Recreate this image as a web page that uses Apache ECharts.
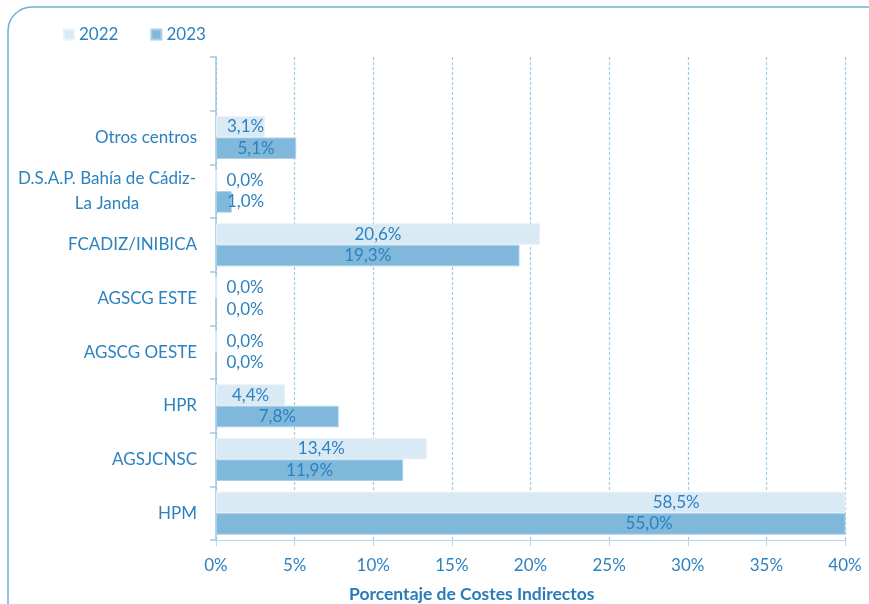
<!DOCTYPE html>
<html>
<head>
<meta charset="utf-8">
<script src="https://cdn.jsdelivr.net/npm/echarts@6/dist/echarts.min.js"></script>
<style>
  html, body { margin: 0; padding: 0; background: #fff; }
  #chart { width: 869px; height: 604px; }
</style>
</head>
<body>
<div id="chart"></div>
<script>
// categories bottom -> top (top slot is empty, as in the original)
var centros = [
  "HPM",
  "AGSJCNSC",
  "HPR",
  "AGSCG OESTE",
  "AGSCG ESTE",
  "FCADIZ/INIBICA",
  "D.S.A.P. Bahía de Cádiz-\nLa Janda",
  "Otros centros",
  ""
];
var valores2022 = [58.5, 13.4, 4.4, 0.0, 0.0, 20.6, 0.0, 3.1, null];
var valores2023 = [55.0, 11.9, 7.8, 0.0, 0.0, 19.3, 1.0, 5.1, null];
var ticksX = [0, 5, 10, 15, 20, 25, 30, 35, 40];

var X_MAX = ticksX[ticksX.length - 1];
var BLUE_TXT = "#2b82bf";
var FONT = "Lato";
var FS = 17;

function pct(v) {
  return v.toFixed(1).replace(".", ",") + "%";
}

// label placement: centred on the (unclipped) bar, kept clear of the axis for tiny bars
function barData(values) {
  return values.map(function (v) {
    if (v == null) return null;
    var label;
    if (v > X_MAX) {
      label = { position: [(v / 2 / X_MAX * 100).toFixed(1) + "%", "50%"], align: "center", verticalAlign: "middle" };
    } else if (v < 3.8) {
      label = { position: "insideLeft", distance: 11 };
    } else {
      label = { position: "inside" };
    }
    return { value: v, label: label };
  });
}

function makeSeries(name, values, color, border) {
  return {
    name: name,
    type: "bar",
    data: barData(values),
    barGap: "0%",
    barCategoryGap: "20%",
    itemStyle: { color: color, borderColor: border, borderWidth: 1 },
    label: {
      show: true,
      color: BLUE_TXT,
      fontFamily: FONT,
      fontSize: FS,
      formatter: function (p) { return pct(p.value); }
    },
    emphasis: { disabled: true },
    animation: false
  };
}

var chart = echarts.init(document.getElementById("chart"), null, { renderer: "canvas" });

chart.setOption({
  animation: false,
  textStyle: { fontFamily: FONT },
  graphic: [{
    type: "rect",
    shape: { x: 8, y: 7, width: 920, height: 660, r: 24 },
    style: { fill: "none", stroke: "#6fb0d9", lineWidth: 1.5 },
    silent: true,
    z: 0
  }],
  title: {
    text: "Porcentaje de Costes Indirectos",
    left: 344,
    top: 580,
    textStyle: { color: "#2a7cb8", fontFamily: FONT, fontSize: 17.5, fontWeight: "bold" }
  },
  legend: {
    data: ["2022", "2023"],
    left: 58,
    top: 21,
    icon: "rect",
    itemWidth: 10,
    itemHeight: 10,
    itemGap: 32,
    textStyle: { color: BLUE_TXT, fontFamily: FONT, fontSize: FS }
  },
  grid: { left: 216, right: 24, top: 57, bottom: 64, containLabel: false },
  xAxis: {
    type: "value",
    min: ticksX[0],
    max: X_MAX,
    interval: ticksX[1] - ticksX[0],
    axisLine: { show: true, lineStyle: { color: "#b9d9ee", width: 1 } },
    axisTick: { show: true, length: 6, lineStyle: { color: "#b9d9ee" } },
    axisLabel: {
      formatter: "{value}%",
      color: BLUE_TXT,
      fontFamily: FONT,
      fontSize: FS,
      margin: 17
    },
    splitLine: { show: true, lineStyle: { color: "#9fcbe8", type: [3, 2], width: 1.2 } }
  },
  yAxis: {
    type: "category",
    data: centros,
    axisLine: { show: true, lineStyle: { color: "#9cc7e3", width: 1.5 } },
    axisTick: { show: true, length: 6, lineStyle: { color: "#9cc7e3", width: 1.5 } },
    axisLabel: {
      color: BLUE_TXT,
      fontFamily: FONT,
      fontSize: FS,
      margin: 19,
      lineHeight: 25,
      formatter: function (v) {
        if (v.indexOf("\n") < 0) return v;
        return v.split("\n").map(function (s) { return "{c|" + s + "}"; }).join("\n");
      },
      rich: { c: { color: BLUE_TXT, fontFamily: FONT, fontSize: FS, lineHeight: 25, width: 180, align: "center" } }
    },
    splitLine: { show: false }
  },
  series: [
    makeSeries("2022", valores2022, "#daeaf5", "#e8f2f9"),
    makeSeries("2023", valores2023, "#7fb8db", "#a9d0e9")
  ]
});
</script>
</body>
</html>
